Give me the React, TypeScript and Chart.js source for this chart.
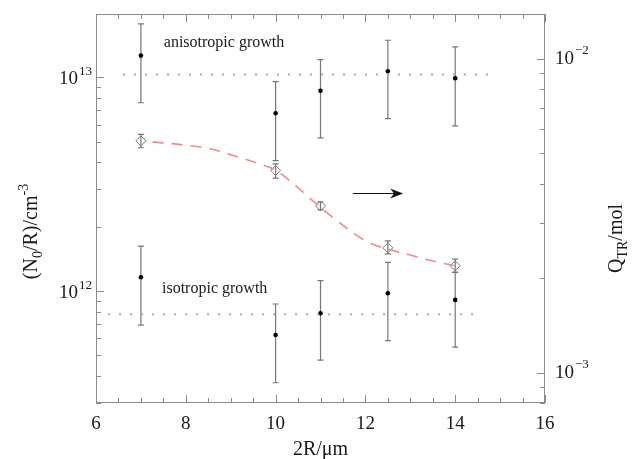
import React, { useEffect, useRef } from 'react';
import { Chart, registerables } from 'chart.js';

Chart.register(...registerables);

// ---- data ----
const DIAMETERS = [7, 10, 11, 12.5, 14];
const ANISO = [1.263e13, 6.79e12, 8.65e12, 1.067e13, 9.89e12];
const ANISO_HI = [1.776e13, 9.53e12, 1.208e13, 1.49e13, 1.386e13];
const ANISO_LO = [7.6e12, 4.07e12, 5.2e12, 6.4e12, 5.92e12];
const ISO = [1.159e12, 6.22e11, 7.87e11, 9.75e11, 9.08e11];
const ISO_HI = [1.62e12, 8.69e11, 1.117e12, 1.36e12, 1.22e12];
const ISO_LO = [6.92e11, 3.72e11, 4.75e11, 5.85e11, 5.46e11];
const QTR = [5.48e-3, 4.41e-3, 3.4e-3, 2.5e-3, 2.19e-3];
const QTR_HI = [5.75e-3, 4.63e-3, 3.5e-3, 2.63e-3, 2.3e-3];
const QTR_LO = [5.21e-3, 4.17e-3, 3.3e-3, 2.39e-3, 2.09e-3];
const FIT_X = [7.26, 7.94, 8.54, 9.05, 9.5, 10.01, 10.47, 10.83, 11.43, 12.03, 13.0, 13.66, 14.0];
const FIT_Y = [5.44e-3, 5.32e-3, 5.17e-3, 4.92e-3, 4.7e-3, 4.41e-3, 3.92e-3, 3.53e-3, 3.0e-3, 2.62e-3, 2.37e-3, 2.24e-3, 2.19e-3];
const ANISO_LEVEL = 1.03e13;
const ANISO_LINE_X = [6.6, 14.82];
const ISO_LEVEL = 7.78e11;
const ISO_LINE_X = [6.27, 14.5];

// axes
const X_MIN = 6;
const X_MAX = 16;
const X_TICKS = [6, 8, 10, 12, 14, 16];
const LEFT_MIN = 2.99e11;
const LEFT_MAX = 1.977e13;
const LEFT_MAJOR_EXP = [12, 13];
const RIGHT_MIN = 8.0e-4;
const RIGHT_MAX = 1.391e-2;
const RIGHT_MAJOR_EXP = [-3, -2];

// annotations (data coordinates)
const ANISO_LABEL = { text: 'anisotropic growth', x: 7.51, y: 1.443e13 };
const ISO_LABEL = { text: 'isotropic growth', x: 7.47, y: 1.02e12 };
const ARROW = { x1: 11.72, x2: 12.84, y: 2.88e12 };

const SERIF = '"Liberation Serif", "Times New Roman", serif';
const TEXT = '#1a1a1a';
const FRAME = '#8a8a8a';

type Part = { t: string; size: number; dy: number };

function richWidth(ctx: CanvasRenderingContext2D, parts: Part[]) {
  let w = 0;
  for (const p of parts) {
    ctx.font = `${p.size}px ${SERIF}`;
    w += ctx.measureText(p.t).width;
  }
  return w;
}

function drawRich(ctx: CanvasRenderingContext2D, parts: Part[], x: number, y: number) {
  ctx.textAlign = 'left';
  ctx.textBaseline = 'alphabetic';
  let cx = x;
  for (const p of parts) {
    ctx.font = `${p.size}px ${SERIF}`;
    ctx.fillText(p.t, cx, y + p.dy);
    cx += ctx.measureText(p.t).width;
  }
}

const errorBarPlugin = {
  id: 'errorBars',
  beforeDatasetsDraw(chart: any) {
    const ctx = chart.ctx as CanvasRenderingContext2D;
    const xs = chart.scales.x;
    const yl = chart.scales.y;
    const yr = chart.scales.y2;
    ctx.save();
    ctx.strokeStyle = '#777';
    ctx.lineWidth = 1.2;
    const bar = (x: number, lo: number, hi: number, s: any) => {
      const px = xs.getPixelForValue(x);
      const p1 = s.getPixelForValue(lo);
      const p2 = s.getPixelForValue(hi);
      ctx.beginPath();
      ctx.moveTo(px, p1);
      ctx.lineTo(px, p2);
      ctx.moveTo(px - 3, p1);
      ctx.lineTo(px + 3, p1);
      ctx.moveTo(px - 3, p2);
      ctx.lineTo(px + 3, p2);
      ctx.stroke();
    };
    DIAMETERS.forEach((d, i) => {
      bar(d, ANISO_LO[i], ANISO_HI[i], yl);
      bar(d, ISO_LO[i], ISO_HI[i], yl);
      bar(d, QTR_LO[i], QTR_HI[i], yr);
    });
    ctx.restore();
  },
};

const axesPlugin = {
  id: 'axesDecor',
  afterDraw(chart: any) {
    const ctx = chart.ctx as CanvasRenderingContext2D;
    const { left, right, top, bottom } = chart.chartArea;
    const xs = chart.scales.x;
    const yl = chart.scales.y;
    const yr = chart.scales.y2;
    ctx.save();
    // frame
    ctx.strokeStyle = FRAME;
    ctx.lineWidth = 1;
    ctx.strokeRect(left + 0.5, top + 0.5, right - left - 1, bottom - top - 1);

    ctx.beginPath();
    // x ticks (bottom and top)
    for (let v = X_MIN; v <= X_MAX + 1e-9; v += 0.5) {
      const px = Math.round(xs.getPixelForValue(v)) + 0.5;
      const major = Math.abs(v / 2 - Math.round(v / 2)) < 1e-9;
      const len = major ? 8 : 5;
      ctx.moveTo(px, bottom);
      ctx.lineTo(px, bottom - len);
      ctx.moveTo(px, top);
      ctx.lineTo(px, top + len);
    }
    // left log ticks
    for (let e = 11; e <= 13; e++) {
      for (let k = 1; k <= 9; k++) {
        const v = k * Math.pow(10, e);
        if (v < LEFT_MIN || v > LEFT_MAX) continue;
        const py = Math.round(yl.getPixelForValue(v)) + 0.5;
        ctx.moveTo(left, py);
        ctx.lineTo(left + (k === 1 ? 8 : 5), py);
      }
    }
    // right log ticks
    for (let e = -4; e <= -2; e++) {
      for (let k = 1; k <= 9; k++) {
        const v = k * Math.pow(10, e);
        if (v < RIGHT_MIN || v > RIGHT_MAX) continue;
        const py = Math.round(yr.getPixelForValue(v)) + 0.5;
        ctx.moveTo(right, py);
        ctx.lineTo(right - (k === 1 ? 8 : 5), py);
      }
    }
    ctx.stroke();

    ctx.fillStyle = TEXT;
    // x tick labels
    ctx.font = `19px ${SERIF}`;
    ctx.textAlign = 'center';
    ctx.textBaseline = 'alphabetic';
    X_TICKS.forEach((v) => {
      ctx.fillText(String(v), xs.getPixelForValue(v), bottom + 26);
    });
    // left labels 10^n
    LEFT_MAJOR_EXP.forEach((e) => {
      const py = yl.getPixelForValue(Math.pow(10, e));
      ctx.font = `19px ${SERIF}`;
      ctx.textAlign = 'right';
      ctx.fillText('10', left - 18, py + 7);
      ctx.font = `13px ${SERIF}`;
      ctx.textAlign = 'left';
      ctx.fillText(String(e), left - 17, py - 2);
    });
    // right labels 10^n
    RIGHT_MAJOR_EXP.forEach((e) => {
      const py = yr.getPixelForValue(Math.pow(10, e));
      ctx.font = `19px ${SERIF}`;
      ctx.textAlign = 'left';
      ctx.fillText('10', right + 10, py + 5);
      const w = ctx.measureText('10').width;
      ctx.font = `13px ${SERIF}`;
      ctx.fillText('\u2212' + String(-e), right + 11 + w, py - 5);
    });

    // x title
    const xt: Part[] = [{ t: '2R/\u03bcm', size: 20, dy: 0 }];
    const xw = richWidth(ctx, xt);
    drawRich(ctx, xt, (left + right) / 2 - xw / 2, bottom + 52);

    // left title (rotated)
    const lt: Part[] = [
      { t: '(N', size: 20, dy: 0 },
      { t: '0', size: 14, dy: 5 },
      { t: '/R)/cm', size: 20, dy: 0 },
      { t: '-3', size: 14, dy: -9 },
    ];
    ctx.save();
    ctx.translate(37, (top + bottom) / 2 + 23);
    ctx.rotate(-Math.PI / 2);
    drawRich(ctx, lt, -richWidth(ctx, lt) / 2, 0);
    ctx.restore();

    // right title (rotated)
    const rt: Part[] = [
      { t: 'Q', size: 20, dy: 0 },
      { t: 'TR', size: 14, dy: 5 },
      { t: '/mol', size: 20, dy: 0 },
    ];
    ctx.save();
    ctx.translate(right + 77, (top + bottom) / 2 + 30);
    ctx.rotate(-Math.PI / 2);
    drawRich(ctx, rt, -richWidth(ctx, rt) / 2, 0);
    ctx.restore();

    // annotations
    ctx.font = `16px ${SERIF}`;
    ctx.textAlign = 'left';
    ctx.textBaseline = 'middle';
    ctx.fillText(ANISO_LABEL.text, xs.getPixelForValue(ANISO_LABEL.x), yl.getPixelForValue(ANISO_LABEL.y));
    ctx.fillText(ISO_LABEL.text, xs.getPixelForValue(ISO_LABEL.x), yl.getPixelForValue(ISO_LABEL.y));

    // arrow
    const ax1 = xs.getPixelForValue(ARROW.x1);
    const ax2 = xs.getPixelForValue(ARROW.x2);
    const ay = Math.round(yl.getPixelForValue(ARROW.y)) + 0.5;
    ctx.strokeStyle = '#111';
    ctx.lineWidth = 1.2;
    ctx.beginPath();
    ctx.moveTo(ax1, ay);
    ctx.lineTo(ax2 - 6, ay);
    ctx.stroke();
    ctx.fillStyle = '#111';
    ctx.beginPath();
    ctx.moveTo(ax2, ay);
    ctx.lineTo(ax2 - 13, ay - 5);
    ctx.lineTo(ax2 - 9, ay);
    ctx.lineTo(ax2 - 13, ay + 5);
    ctx.closePath();
    ctx.fill();

    ctx.restore();
  },
};

export default function App() {
  const ref = useRef<HTMLCanvasElement | null>(null);

  useEffect(() => {
    if (!ref.current) return;
    const pts = (ys: number[]) => DIAMETERS.map((x, i) => ({ x, y: ys[i] }));
    const chart = new Chart(ref.current, {
      type: 'scatter',
      data: {
        datasets: [
          {
            type: 'line',
            label: 'anisotropic level',
            data: ANISO_LINE_X.map((x) => ({ x, y: ANISO_LEVEL })),
            yAxisID: 'y',
            borderColor: '#a8a8a8',
            borderWidth: 2,
            borderDash: [2, 9],
            pointRadius: 0,
            fill: false,
          },
          {
            type: 'line',
            label: 'isotropic level',
            data: ISO_LINE_X.map((x) => ({ x, y: ISO_LEVEL })),
            yAxisID: 'y',
            borderColor: '#a8a8a8',
            borderWidth: 2,
            borderDash: [2, 9],
            pointRadius: 0,
            fill: false,
          },
          {
            type: 'line',
            label: 'fit',
            data: FIT_X.map((x, i) => ({ x, y: FIT_Y[i] })),
            yAxisID: 'y2',
            borderColor: '#f08c8c',
            borderWidth: 1.6,
            borderDash: [11, 8],
            pointRadius: 0,
            cubicInterpolationMode: 'monotone',
            fill: false,
          },
          {
            label: 'anisotropic',
            data: pts(ANISO),
            yAxisID: 'y',
            pointRadius: 2.3,
            backgroundColor: '#000',
            borderColor: '#000',
            borderWidth: 0,
          },
          {
            label: 'isotropic',
            data: pts(ISO),
            yAxisID: 'y',
            pointRadius: 2.3,
            backgroundColor: '#000',
            borderColor: '#000',
            borderWidth: 0,
          },
          {
            label: 'Q_TR',
            data: pts(QTR),
            yAxisID: 'y2',
            pointStyle: 'rectRot',
            pointRadius: 5,
            backgroundColor: 'rgba(0,0,0,0)',
            borderColor: '#777',
            borderWidth: 1,
          },
        ],
      },
      options: {
        animation: false,
        responsive: false,
        devicePixelRatio: 1,
        layout: { padding: { left: 96, right: 87, top: 14, bottom: 56 } },
        plugins: { legend: { display: false }, tooltip: { enabled: false } },
        scales: {
          x: { type: 'linear', min: X_MIN, max: X_MAX, display: false },
          y: { type: 'logarithmic', min: LEFT_MIN, max: LEFT_MAX, display: false },
          y2: { type: 'logarithmic', min: RIGHT_MIN, max: RIGHT_MAX, display: false, position: 'right' },
        },
      },
      plugins: [errorBarPlugin, axesPlugin],
    } as any);
    return () => chart.destroy();
  }, []);

  return (
    <div style={{ position: 'fixed', left: 0, top: 0, width: 632, height: 459, background: '#fff' }}>
      <canvas ref={ref} width={632} height={459} style={{ width: 632, height: 459, display: 'block' }} />
    </div>
  );
}
